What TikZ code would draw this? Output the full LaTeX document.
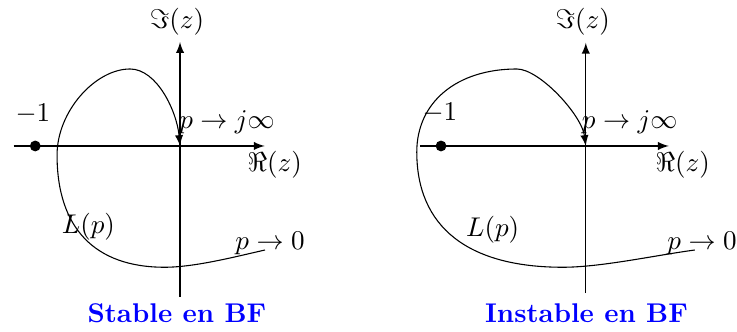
\documentclass[tikz,border=0pt]{standalone}
\usepackage{amsmath,amssymb}
\usepackage{tikz}
\usetikzlibrary{arrows}
\tikzset{
	titre/.style = {text = blue, font = \bfseries},
	lieu/.style = {-latex}
}
\begin{document}
\begin{tikzpicture}
	\useasboundingbox (-2.338,-2.403) rectangle (7.234,1.896);
	% cas stable
	\draw [-latex] (-2.16,0) -- (1.10,0);
	\draw [-latex] (0,-1.96) -- (0,1.35);
	\fill (-1.88,0) circle (2pt);
	\node (m1a) at (-1.91,0.42) {$-1$};
	\node (ima) at (-0.04,1.61) {$\Im(z)$};
	\node (rea) at (1.23,-0.25) {$\Re(z)$};
	\node (inf1) at (0.61,0.31) {$p \to j\infty$};
	\node (La) at (-1.19,-1.05) {$L(p)$};
	\node (zer1) at (1.17,-1.26) {$p \to 0$};
	\node [titre] (st) at (-0.04,-2.17) {Stable en BF};
	\draw [lieu] (1.104,-1.351) .. controls (0.75,-1.43) and (0.2,-1.575) .. (-0.2,-1.575)
		.. controls (-1.108,-1.575) and (-1.597,-1.065) .. (-1.597,-0.117)
		.. controls (-1.597,0.45) and (-1.10,1.0) .. (-0.649,1.0)
		.. controls (-0.3,1.0) and (-0.04,0.45) .. (0,0);
	% cas instable
	\begin{scope}[xshift = 5.27cm]
	\draw [-latex] (-2.156,0) -- (1.078,0);
	\draw [-latex] (0,-1.91) -- (0,1.34);
	\fill (-1.88,0) circle (2pt);
	\node (m1b) at (-1.896,0.43) {$-1$};
	\node (imb) at (-0.04,1.61) {$\Im(z)$};
	\node (reb) at (1.26,-0.25) {$\Re(z)$};
	\node (inf2) at (0.57,0.31) {$p \to j\infty$};
	\node (Lb) at (-1.21,-1.09) {$L(p)$};
	\node (zer2) at (1.51,-1.26) {$p \to 0$};
	\node [titre] (inst) at (0.01,-2.17) {Instable en BF};
	\draw [lieu] (1.416,-1.351) .. controls (0.9,-1.42) and (0.2,-1.575) .. (-0.3,-1.575)
		.. controls (-1.532,-1.575) and (-2.195,-1.051) .. (-2.195,-0.078)
		.. controls (-2.195,0.569) and (-1.675,1.0) .. (-0.896,1.0)
		.. controls (-0.6,1.0) and (-0.05,0.4) .. (0,0);
	\end{scope}
\end{tikzpicture}
\end{document}
